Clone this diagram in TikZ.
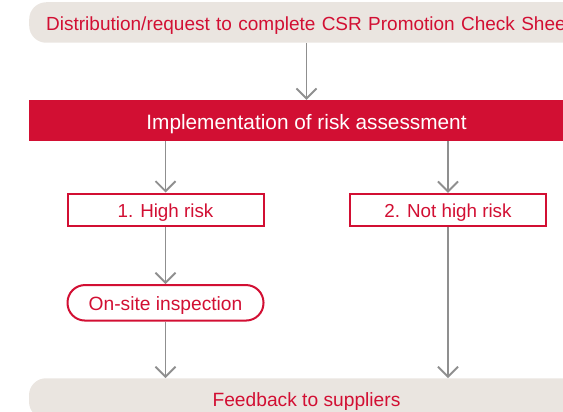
\documentclass[tikz,border=0pt]{standalone}
\usepackage{fontspec}
\setmainfont{Liberation Sans}
\usepackage{tikz}
\usepackage{xcolor}
\usetikzlibrary{arrows.meta}

\definecolor{csrred}{HTML}{D20F33}
\definecolor{csrbeige}{HTML}{EAE5E0}
\definecolor{csrgray}{HTML}{8F8F8F}

\tikzset{
  capline/.style={text height=#1, text depth=0pt},
  capline/.default=16pt,
  banner/.style={capline, fill=csrbeige, rounded corners=17pt, text=csrred, font=\fontsize{19}{22}\selectfont},
  riskbox/.style={capline, draw=csrred, line width=2pt, fill=white, text=csrred, inner sep=0pt, font=\fontsize{18.8}{21}\selectfont},
  flow/.style={draw=csrgray, line width=1.9pt, -{Straight Barb[length=10pt,width=20pt]}}
}

\begin{document}
\begin{tikzpicture}[x=1pt, y=-1pt]
    \useasboundingbox (0,0) rectangle (563,412);
    \clip (0,0) rectangle (563,412);

    % Request and assessment
    \node[banner, anchor=west, minimum height=40.5pt, text width=560pt, align=left, inner xsep=17pt] (dist) at (29,22.5) {Distribution/request to complete CSR Promotion Check Sheet};
    \node[capline=17.6pt, fill=csrred, text=white, minimum width=555pt, minimum height=41pt, font=\fontsize{20.8}{24}\selectfont] (impl) at (306.5,120.5) {Implementation of risk assessment};
    \draw[flow] (dist.south -| impl.north) -- (impl.north);

    % Two outcomes
    \node[riskbox, minimum width=196pt, minimum height=32pt] (high) at (165.5,209.5) {1. High risk};
    \node[riskbox, minimum width=196pt, minimum height=32pt] (nothigh) at (448,209.8) {2. Not high risk};
    \draw[flow] (impl.south -| high.north) -- (high.north);
    \draw[flow] (impl.south -| nothigh.north) -- (nothigh.north);

    % Inspection
    \node[riskbox, rounded corners=17.5pt, minimum width=196pt, minimum height=35.5pt, font=\fontsize{19.2}{22}\selectfont] (insp) at (165.5,302.8) {On-site inspection};
    \draw[flow] (high.south -| insp.north) -- (insp.north);

    % Feedback
    \node[banner, minimum width=555pt, minimum height=40.5pt, font=\fontsize{19.2}{22}\selectfont] (feed) at (306.5,398.5) {Feedback to suppliers};
    \draw[flow] (insp.south) -- (feed.north -| insp.south);
    \draw[flow] (nothigh.south) -- (feed.north -| nothigh.south);
\end{tikzpicture}
\end{document}
